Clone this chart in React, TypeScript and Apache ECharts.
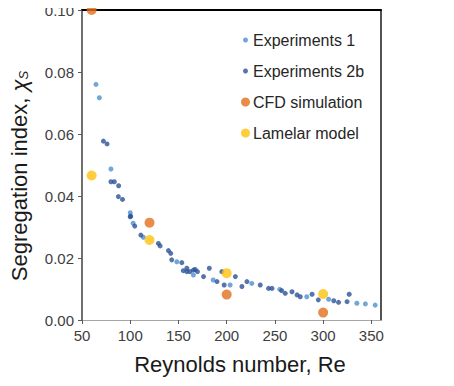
import React, { useEffect, useRef } from "react";
import * as echarts from "echarts";

// Reynolds number / segregation index pairs
const exp1Re = [64.5, 68, 80, 100, 103, 113.6, 148.3, 165.5, 186, 203.6, 226, 255, 283, 305.7, 335, 343.8, 354];
const exp1Xs = [0.076, 0.0717, 0.0487, 0.0346, 0.0312, 0.0267, 0.0188, 0.0145, 0.0129, 0.0113, 0.0118, 0.0099, 0.0075, 0.0067, 0.0054, 0.0052, 0.0048];

const exp2Re = [72.2, 76, 80, 83.5, 88, 87.7, 92, 100, 100.5, 104.7, 111, 129.2, 131, 139.6, 142, 143, 153.5, 155, 158.7, 158.7, 162, 165.5, 167.3, 169.7, 176, 182, 190, 195, 197.4, 209, 215.8, 221, 234.8, 243.4, 247, 257, 260.7, 267.7, 273, 276.3, 288.5, 295, 311, 316, 324.8, 327];
const exp2Xs = [0.0577, 0.0568, 0.0446, 0.0446, 0.0433, 0.0398, 0.0389, 0.0333, 0.0335, 0.0303, 0.0274, 0.0247, 0.0239, 0.0224, 0.0215, 0.0194, 0.0185, 0.0159, 0.0167, 0.0156, 0.0156, 0.0161, 0.0163, 0.0156, 0.014, 0.0167, 0.0124, 0.0156, 0.0113, 0.014, 0.0108, 0.0124, 0.0113, 0.0102, 0.0102, 0.0095, 0.0086, 0.0091, 0.0081, 0.0075, 0.0083, 0.0065, 0.0062, 0.0057, 0.0059, 0.0083];

const cfdRe = [60, 120, 200, 300];
const cfdXs = [0.1, 0.0314, 0.0082, 0.0024];

const lamRe = [60, 120, 200, 300];
const lamXs = [0.0466, 0.0258, 0.0151, 0.0084];

const seriesNames = ["Experiments 1", "Experiments 2b", "CFD simulation", "Lamelar model"];
const xTicks = { min: 50, max: 360, interval: 50 };
const yTicks = { min: 0, max: 0.1, interval: 0.02 };

const pairs = (xs: number[], ys: number[]) => xs.map((x, i) => [x, ys[i]]);

const FONT = "Liberation Sans, Arial, sans-serif";

export default function App() {
  const ref = useRef<HTMLDivElement>(null);

  useEffect(() => {
    if (!ref.current) return;
    const chart = echarts.init(ref.current, null, { renderer: "svg" });
    const legendText = { color: "#262626", fontSize: 16, fontFamily: FONT, lineHeight: 20 };
    chart.setOption({
      animation: false,
      backgroundColor: "#ffffff",
      textStyle: { fontFamily: FONT },
      grid: { left: 82, top: 10, right: 73, bottom: 66 },
      legend: [
        {
          data: [seriesNames[0], seriesNames[1]],
          orient: "vertical",
          left: 238,
          top: 25,
          itemWidth: 5,
          itemHeight: 5,
          itemGap: 11,
          icon: "circle",
          textStyle: { ...legendText, padding: [0, 0, 0, 0] },
        },
        {
          data: [seriesNames[2], seriesNames[3]],
          orient: "vertical",
          left: 236,
          top: 87,
          itemWidth: 9,
          itemHeight: 9,
          itemGap: 11,
          icon: "circle",
          textStyle: { ...legendText, padding: [0, 0, 0, -2] },
        },
      ],
      xAxis: [
        {
          type: "value",
          ...xTicks,
          name: "Reynolds number, Re",
          nameLocation: "middle",
          nameGap: 33,
          nameTextStyle: { fontSize: 22, color: "#1a1a1a", fontFamily: FONT, padding: [0, 0, 0, 17] },
          axisLine: { show: true, onZero: false, lineStyle: { color: "#a6a6a6", width: 1 } },
          axisTick: { show: true, length: 4, lineStyle: { color: "#595959" } },
          axisLabel: { fontSize: 15, color: "#404040", margin: 8, showMaxLabel: false },
          splitLine: { show: false },
        },
        {
          type: "value",
          ...xTicks,
          position: "top",
          axisLine: { show: true, onZero: false, lineStyle: { color: "#000", width: 2 } },
          axisTick: { show: false },
          axisLabel: { show: false },
          splitLine: { show: false },
        },
      ],
      yAxis: [
        {
          type: "value",
          ...yTicks,
          name: "{a|Segregation index, }{b|χ}{c|S}",
          nameLocation: "middle",
          nameGap: 52,
          nameTextStyle: {
            fontSize: 22,
            color: "#1a1a1a",
            fontFamily: FONT,
            padding: [0, 0, 0, -22],
            rich: {
              a: { fontSize: 22, fontFamily: FONT, color: "#1a1a1a" },
              b: { fontSize: 22, fontFamily: FONT, fontStyle: "italic", color: "#1a1a1a" },
              c: { fontSize: 13, fontFamily: FONT, fontStyle: "italic", color: "#1a1a1a", padding: [8, 0, 0, 0] },
            },
          },
          axisLine: { show: true, onZero: false, lineStyle: { color: "#404040", width: 1.5 } },
          axisTick: { show: true, length: 4, lineStyle: { color: "#595959" } },
          axisLabel: {
            fontSize: 15,
            color: "#404040",
            margin: 8,
            formatter: (v: number) => v.toFixed(2),
          },
          splitLine: { show: false },
        },
        {
          type: "value",
          ...yTicks,
          position: "right",
          axisLine: { show: true, onZero: false, lineStyle: { color: "#1a1a1a", width: 1.5 } },
          axisTick: { show: false },
          axisLabel: { show: false },
          splitLine: { show: false },
        },
      ],
      series: [
        {
          name: seriesNames[0],
          type: "scatter",
          symbol: "circle",
          symbolSize: 5,
          itemStyle: { color: "#4f8fcf" },
          data: pairs(exp1Re, exp1Xs),
        },
        {
          name: seriesNames[1],
          type: "scatter",
          symbol: "circle",
          symbolSize: 5,
          itemStyle: { color: "#2b5396" },
          data: pairs(exp2Re, exp2Xs),
        },
        {
          name: seriesNames[2],
          type: "scatter",
          symbol: "circle",
          symbolSize: 10,
          itemStyle: { color: "#e2701c" },
          data: pairs(cfdRe, cfdXs),
          clip: false,
        },
        {
          name: seriesNames[3],
          type: "scatter",
          symbol: "circle",
          symbolSize: 10,
          itemStyle: { color: "#ffc20e" },
          data: pairs(lamRe, lamXs),
        },
      ],
    });
    return () => chart.dispose();
  }, []);

  return <div ref={ref} style={{ width: 454, height: 386, margin: -8 }} />;
}
